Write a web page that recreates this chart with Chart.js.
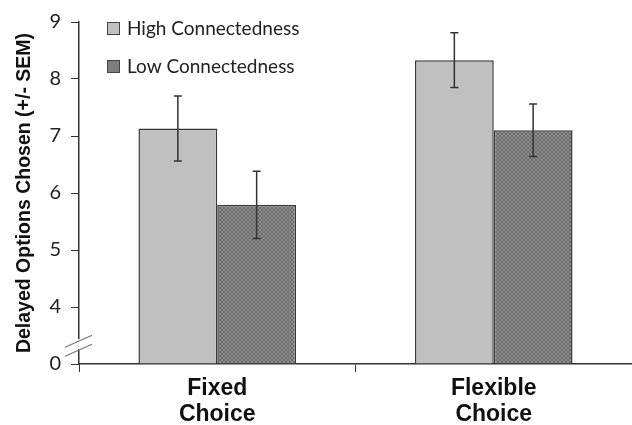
<!DOCTYPE html>
<html>
<head>
<meta charset="utf-8">
<script src="https://cdn.jsdelivr.net/npm/chart.js@4/dist/chart.umd.min.js"></script>
<style>
  html, body { margin: 0; padding: 0; background: #fff; }
  #wrap { width: 632px; height: 425px; position: relative; }
</style>
</head>
<body>
<div id="wrap"><canvas id="chart" width="632" height="425"></canvas></div>
<script>
// data
const categories = [["Fixed", "Choice"], ["Flexible", "Choice"]];
const seriesNames = ["High Connectedness", "Low Connectedness"];
const highMeans = [7.13, 8.33];
const highSem = [0.57, 0.48];
const lowMeans = [5.79, 7.10];
const lowSem = [0.59, 0.46];
const yTickValues = [3, 4, 5, 6, 7, 8, 9];
const yTickLabels = ["0", "4", "5", "6", "7", "8", "9"];
const yMin = 3; // axis is broken here, shown as 0
const yMax = 9;

function makeHatch() {
  const c = document.createElement("canvas");
  c.width = 4;
  c.height = 4;
  const g = c.getContext("2d");
  g.fillStyle = "#8e8e8e";
  g.fillRect(0, 0, 4, 4);
  g.fillStyle = "#6a6a6a";
  for (let i = 0; i < 4; i++) {
    g.fillRect(i, i, 1, 1);
    g.fillRect(3 - i, i, 1, 1);
  }
  return g.createPattern(c, "repeat");
}

const errorBars = {
  id: "errorBars",
  afterDatasetsDraw(chart) {
    const ctx = chart.ctx;
    const y = chart.scales.y;
    ctx.save();
    ctx.strokeStyle = "#333";
    ctx.lineWidth = 1.5;
    chart.data.datasets.forEach((ds, di) => {
      const meta = chart.getDatasetMeta(di);
      meta.data.forEach((bar, i) => {
        const top = y.getPixelForValue(ds.data[i] + ds.sem[i]);
        const bot = y.getPixelForValue(ds.data[i] - ds.sem[i]);
        ctx.beginPath();
        ctx.moveTo(bar.x, top);
        ctx.lineTo(bar.x, bot);
        ctx.moveTo(bar.x - 4, top);
        ctx.lineTo(bar.x + 4, top);
        ctx.moveTo(bar.x - 4, bot);
        ctx.lineTo(bar.x + 4, bot);
        ctx.stroke();
      });
    });
    ctx.restore();
  }
};

const axisBreak = {
  id: "axisBreak",
  afterDraw(chart) {
    const ctx = chart.ctx;
    const y = chart.scales.y;
    const x0 = chart.chartArea.left;
    const yb = y.getPixelForValue(yMin + 0.33);
    ctx.save();
    ctx.fillStyle = "#fff";
    ctx.fillRect(x0 - 3, yb - 6, 6, 10);
    ctx.strokeStyle = "#777";
    ctx.lineWidth = 1.2;
    ctx.beginPath();
    ctx.moveTo(x0 - 14, yb + 2);
    ctx.lineTo(x0 + 13, yb - 10);
    ctx.moveTo(x0 - 14, yb + 11);
    ctx.lineTo(x0 + 13, yb - 1);
    ctx.stroke();
    ctx.restore();
  }
};

const floatLegend = {
  id: "floatLegend",
  afterDraw(chart) {
    const ctx = chart.ctx;
    const fills = ["#c0c0c0", "#7e7e7e"];
    ctx.save();
    ctx.font = "19px Lato";
    ctx.textBaseline = "middle";
    seriesNames.forEach((name, i) => {
      const by = 22 + i * 38;
      ctx.fillStyle = fills[i];
      ctx.fillRect(107, by, 12, 12);
      ctx.strokeStyle = "#444";
      ctx.lineWidth = 1;
      ctx.strokeRect(107.5, by + 0.5, 12, 12);
      ctx.fillStyle = "#222";
      ctx.fillText(name, 127, by + 7);
    });
    ctx.restore();
  }
};

new Chart(document.getElementById("chart"), {
  type: "bar",
  data: {
    labels: categories,
    datasets: [
      {
        label: seriesNames[0],
        data: highMeans,
        sem: highSem,
        base: yMin,
        backgroundColor: "#c0c0c0",
        borderColor: "#3a3a3a",
        borderWidth: 1.5,
        categoryPercentage: 0.57,
        barPercentage: 1.0
      },
      {
        label: seriesNames[1],
        data: lowMeans,
        sem: lowSem,
        base: yMin,
        backgroundColor: makeHatch(),
        borderColor: "#3a3a3a",
        borderWidth: 1.5,
        categoryPercentage: 0.57,
        barPercentage: 1.0
      }
    ]
  },
  options: {
    responsive: false,
    animation: false,
    layout: { padding: { top: 15, right: 0, left: 0, bottom: 0 } },
    plugins: {
      legend: { display: false },
      tooltip: { enabled: false }
    },
    scales: {
      x: {
        afterFit: (s) => { s.height = 61; },
        grid: {
          display: true,
          offset: true,
          drawOnChartArea: false,
          drawTicks: true,
          tickLength: 8,
          color: "#333"
        },
        border: { color: "#333", width: 1.5 },
        ticks: {
          color: "#111",
          padding: 4,
          font: { family: "Liberation Sans", size: 23, weight: "bold", lineHeight: 1.13 }
        }
      },
      y: {
        min: yMin,
        max: yMax,
        afterFit: (s) => { s.width = 79; },
        afterBuildTicks: (s) => { s.ticks = yTickValues.map((v) => ({ value: v })); },
        grid: {
          drawOnChartArea: false,
          drawTicks: true,
          tickLength: 8,
          color: "#333"
        },
        border: { color: "#333", width: 1.5 },
        ticks: {
          color: "#222",
          padding: 10,
          font: { family: "Lato", size: 20 },
          callback: (v) => yTickLabels[yTickValues.indexOf(v)]
        },
        title: {
          display: true,
          text: "Delayed Options Chosen (+/- SEM)",
          color: "#111",
          padding: { top: 13, bottom: 0 },
          font: { family: "Liberation Sans", size: 19.5, weight: "bold" }
        }
      }
    }
  },
  plugins: [errorBars, axisBreak, floatLegend]
});
</script>
</body>
</html>
